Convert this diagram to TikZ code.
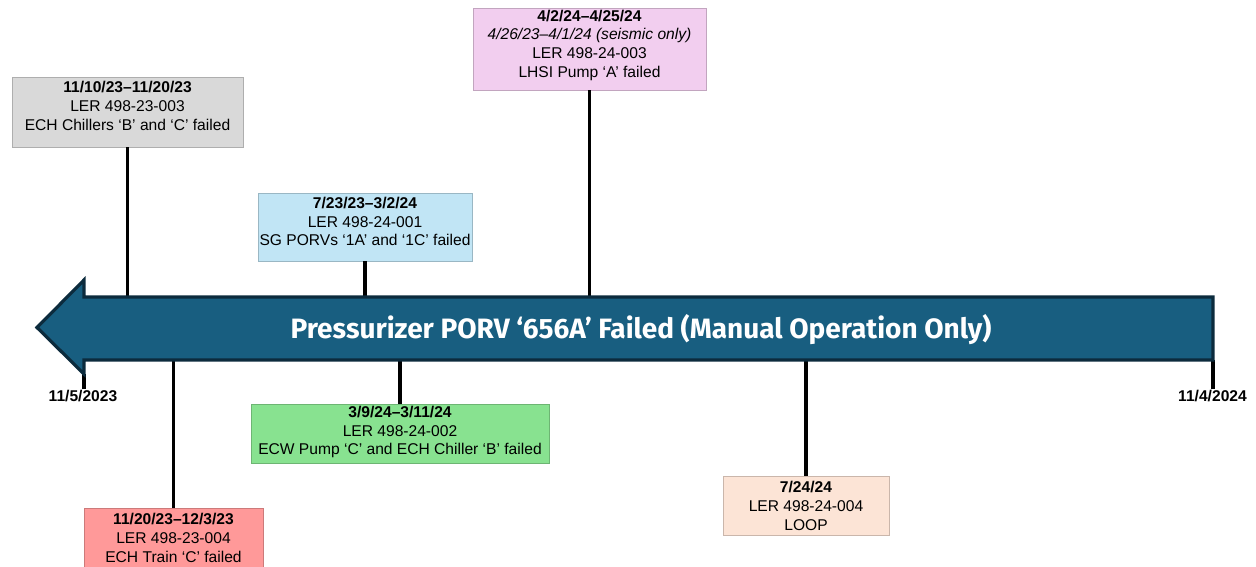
\documentclass[tikz,border=0pt]{standalone}
\usepackage{fontspec}
\setmainfont{Liberation Sans}
\newfontfamily\titlefont{Fira Sans}
\begin{document}
\begin{tikzpicture}[x=0.75pt,y=-0.75pt,
  evbox/.style={draw=#1!80!black, line width=0.6pt, fill=#1, inner sep=0pt},
  evtext/.style={align=center, inner sep=0pt, font=\fontsize{11.7}{14}\selectfont, text=black},
  stem/.style={line width=2.3pt, black},
  datelabel/.style={font=\fontsize{11.7}{14}\selectfont\bfseries, inner sep=1pt, anchor=north},
  barfill/.style={fill=barblue, draw=bardark, line width=2.4pt, line join=miter}]
\definecolor{barblue}{HTML}{185E80}
\definecolor{bardark}{HTML}{0C2B3D}
\definecolor{greybox}{HTML}{D9D9D9}
\definecolor{bluebox}{HTML}{C1E5F5}
\definecolor{pinkbox}{HTML}{F2CEEF}
\definecolor{greenbox}{HTML}{88E290}
\definecolor{redbox}{HTML}{FF9999}
\definecolor{peachbox}{HTML}{FCE4D6}
\useasboundingbox (0,0) rectangle (1256,567);

% timeline band corners and arrow head
\coordinate (bandNW) at (84,297);
\coordinate (bandSE) at (1213,360);
\coordinate (headTop) at (84,280);
\coordinate (headBot) at (84,374);
\coordinate (tip) at (37,327.5);

% event boxes
\node[evbox=greybox, minimum width=173.25pt, minimum height=52.5pt] (grey) at (127.5,112) {};
\node[evtext] (greyText) at (127.5,106) {\textbf{11/10/23–11/20/23}\\LER 498-23-003\\ECH Chillers ‘B’ and ‘C’ failed};

\node[evbox=bluebox, minimum width=160.5pt, minimum height=51pt] (blue) at (365,227) {};
\node[evtext] (blueText) at (365,221.5) {\textbf{7/23/23–3/2/24}\\LER 498-24-001\\SG PORVs ‘1A’ and ‘1C’ failed};

\node[evbox=pinkbox, minimum width=174.75pt, minimum height=61.5pt] (pink) at (589.5,49) {};
\node[evtext] (pinkText) at (589.5,45) {\textbf{4/2/24–4/25/24}\\\textit{4/26/23–4/1/24 (seismic only)}\\LER 498-24-003\\LHSI Pump ‘A’ failed};

\node[evbox=greenbox, minimum width=223.5pt, minimum height=44.25pt] (green) at (400,433.5) {};
\node[evtext] (greenText) at (400,432) {\textbf{3/9/24–3/11/24}\\LER 498-24-002\\ECW Pump ‘C’ and ECH Chiller ‘B’ failed};

\node[evbox=redbox, minimum width=134.25pt, minimum height=44.25pt] (red) at (173.5,537.5) {};
\node[evtext] (redText) at (173.5,538) {\textbf{11/20/23–12/3/23}\\LER 498-23-004\\ECH Train ‘C’ failed};

\node[evbox=peachbox, minimum width=124.5pt, minimum height=44.25pt] (peach) at (806,505.5) {};
\node[evtext] (peachText) at (806,506) {\textbf{7/24/24}\\LER 498-24-004\\LOOP};

% stems from boxes to the band
\draw[stem] (grey.south) -- (grey.south |- tip);
\draw[stem] (blue.south) -- (blue.south |- tip);
\draw[stem] (pink.south) -- (pink.south |- tip);
\draw[stem] (green.north) -- (green.north |- tip);
\draw[stem] (red.north) -- (red.north |- tip);
\draw[stem] (peach.north) -- (peach.north |- tip);

% end dates and ticks
\node[datelabel] (startDate) at (83,389) {11/5/2023};
\node[datelabel] (endDate) at (1212.5,389) {11/4/2024};
\draw[stem] (headBot) -- (startDate.north -| headBot);
\draw[stem] (bandSE) -- (endDate.north -| bandSE);

% the band itself
\draw[barfill] (tip) -- (headTop) -- (bandNW) -- (bandNW -| bandSE) -- (bandSE) -- (bandSE -| bandNW) -- (headBot) -- cycle;
\node[text=white, font=\titlefont\fontsize{21}{24}\selectfont\bfseries, inner sep=0pt, anchor=base] (title) at (641,338.3) {Pressurizer PORV ‘656A’ Failed (Manual Operation Only)};
\end{tikzpicture}
\end{document}
